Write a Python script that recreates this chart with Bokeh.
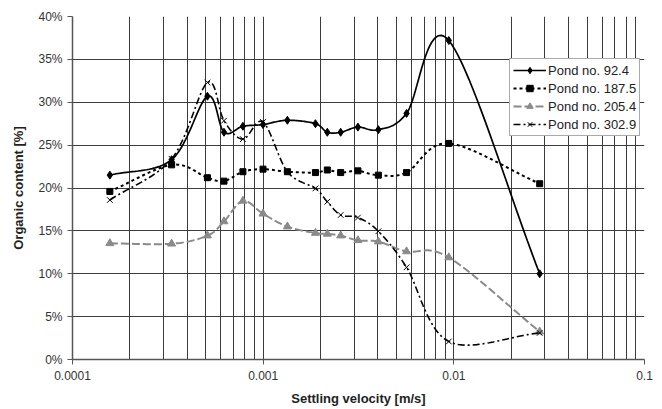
import numpy as np
from bokeh.plotting import figure
from bokeh.models import (Range1d, FixedTicker, CustomJSTickFormatter,
                          PrintfTickFormatter, Legend, LegendItem)
from bokeh.embed import file_html
from bokeh.resources import INLINE

# ---- data ----
velocity = [0.000157, 0.000331, 0.000510, 0.000623, 0.000783, 0.000998,
            0.00134, 0.00188, 0.00217, 0.00255, 0.00314, 0.00402,
            0.00565, 0.00941, 0.0282]
pond_92_4 = [21.5, 23.3, 30.7, 26.5, 27.2, 27.4, 27.9, 27.5, 26.5, 26.5,
             27.1, 26.8, 28.7, 37.2, 10.0]
pond_187_5 = [19.6, 22.7, 21.2, 20.8, 21.9, 22.2, 21.9, 21.8, 22.1, 21.8,
              22.0, 21.5, 21.8, 25.2, 20.5]
pond_205_4 = [13.55, 13.5, 14.45, 16.1, 18.5, 17.0, 15.5, 14.75, 14.65,
              14.45, 13.9, 13.75, 12.6, 11.9, 3.25]
pond_302_9 = [18.6, 23.4, 32.3, 27.85, 25.7, 27.7, 21.9, 19.95, 18.4,
              16.85, 16.55, 14.95, 10.75, 2.1, 3.1]
series_names = ["Pond no. 92.4", "Pond no. 187.5", "Pond no. 205.4", "Pond no. 302.9"]
x_tick_values = [0.0001, 0.001, 0.01, 0.1]
y_tick_values = [0, 5, 10, 15, 20, 25, 30, 35, 40]

FONT = "Liberation Sans"


def smooth(xs, ys, n=24):
    """Excel-like smoothed line (Catmull-Rom Bezier) in log-x space."""
    P = np.column_stack([np.log10(xs), np.asarray(ys, float)])
    E = np.vstack([2 * P[0] - P[1], P, 2 * P[-1] - P[-2]])
    px, py = [], []
    for i in range(len(P) - 1):
        p0, p1, p2, p3 = E[i], E[i + 1], E[i + 2], E[i + 3]
        c1 = p1 + (p2 - p0) / 6.0
        c2 = p2 - (p3 - p1) / 6.0
        t = np.linspace(0, 1, n)[:, None]
        b = ((1 - t) ** 3) * p1 + 3 * ((1 - t) ** 2) * t * c1 + \
            3 * (1 - t) * t ** 2 * c2 + t ** 3 * p2
        px.extend(b[:, 0]); py.extend(b[:, 1])
    return 10 ** np.array(px), np.array(py)


p = figure(width=662, height=409, x_axis_type="log",
           x_range=Range1d(1e-4, 0.1), y_range=Range1d(0, 40),
           output_backend="svg", toolbar_location=None,
           min_border_left=72, min_border_right=18,
           min_border_top=16, min_border_bottom=50)
p.background_fill_color = "white"
p.border_fill_color = "white"
p.outline_line_color = None

minor = [m * 10.0 ** e for e in range(-4, -1) for m in range(2, 10)]
p.xaxis.ticker = FixedTicker(ticks=x_tick_values, minor_ticks=minor)
p.xaxis.formatter = CustomJSTickFormatter(code="return tick.toString();")
p.yaxis.ticker = FixedTicker(ticks=y_tick_values)
p.yaxis.formatter = PrintfTickFormatter(format="%d%%")

for ax in (p.xaxis, p.yaxis):
    ax.axis_line_color = "#555555"
    ax.axis_line_width = 1.5
    ax.major_tick_line_color = "#555555"
    ax.major_tick_out = 5
    ax.major_tick_in = 0
    ax.minor_tick_line_color = None
    ax.major_label_text_font = FONT
    ax.major_label_text_font_size = "12px"
    ax.major_label_text_color = "#333333"
    ax.axis_label_text_font = FONT
    ax.axis_label_text_font_size = "13px"
    ax.axis_label_text_font_style = "bold"
    ax.axis_label_text_color = "#222222"

p.xaxis.axis_label = "Settling velocity [m/s]"
p.yaxis.axis_label = "Organic content [%]"
p.xaxis.major_label_standoff = 6
p.xaxis.axis_label_standoff = 8
p.yaxis.major_label_standoff = 5
p.yaxis.axis_label_standoff = 9

p.xgrid.grid_line_color = "#3c3c3c"
p.xgrid.minor_grid_line_color = "#3c3c3c"
p.ygrid.grid_line_color = "#3c3c3c"

styles = [
    dict(color="black", dash="solid", width=1.7, marker="diamond", size=8, lw=1),
    dict(color="black", dash="3 3", width=2, marker="square", size=6, lw=1),
    dict(color="#8a8a8a", dash="8 3", width=2, marker="triangle", size=8, lw=1),
    dict(color="black", dash="7 3 2 3", width=1.6, marker="x", size=8, lw=1),
]
series = [pond_92_4, pond_187_5, pond_205_4, pond_302_9]

items = []
for name, ys, st in zip(series_names, series, styles):
    sx, sy = smooth(velocity, ys)
    lr = p.line(sx, sy, line_color=st["color"], line_width=st["width"],
                line_dash=st["dash"])
    sr = p.scatter(velocity, ys, marker=st["marker"], size=st["size"],
                   fill_color=st["color"], line_color=st["color"],
                   line_width=st["lw"])
    items.append(LegendItem(label=name, renderers=[lr, sr]))

legend = Legend(items=items, location=(437, 223))
legend.label_text_font = FONT
legend.label_text_font_size = "13px"
legend.label_text_color = "#222222"
legend.glyph_width = 33
legend.glyph_height = 16
legend.label_height = 16
legend.label_width = 88
legend.label_standoff = 2
legend.spacing = 2
legend.padding = 3
legend.margin = 0
legend.border_line_color = "#555555"
legend.border_line_width = 1
legend.background_fill_color = "white"
legend.background_fill_alpha = 1
p.add_layout(legend)

open("out.html", "w").write(file_html(p, INLINE))
